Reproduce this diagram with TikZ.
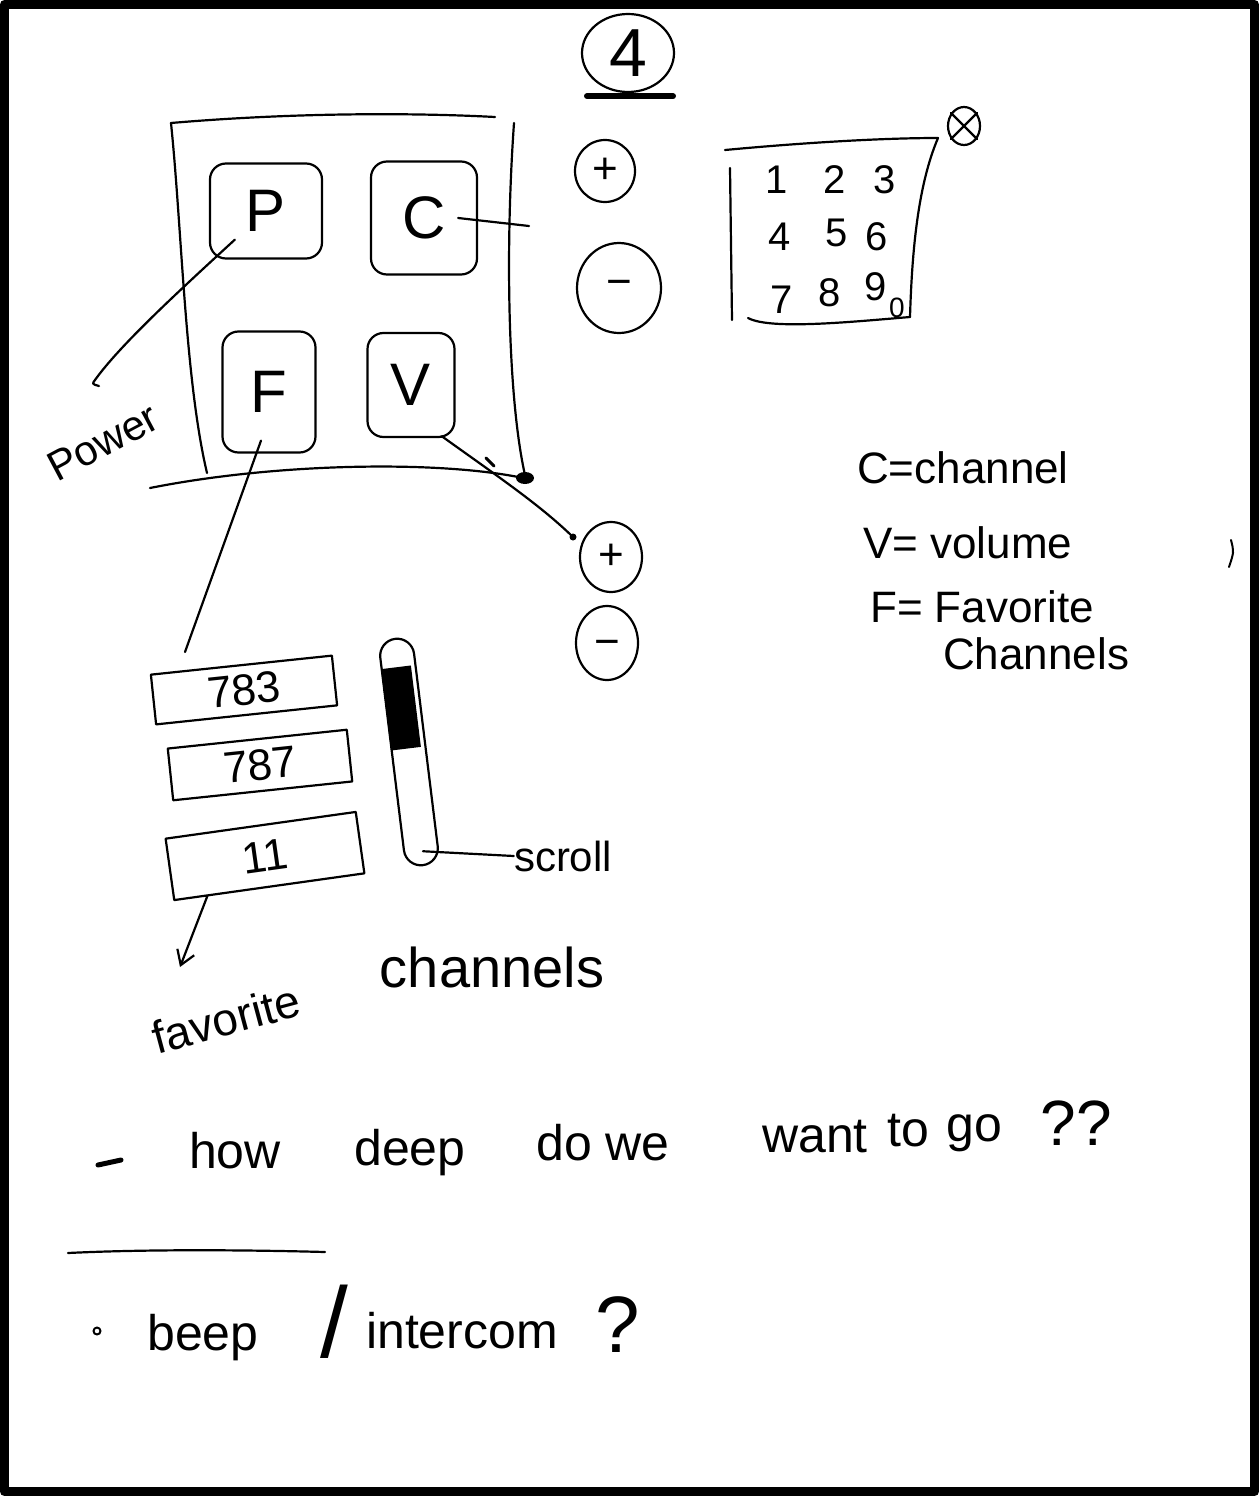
\documentclass[tikz,border=0pt]{standalone}
\usepackage{fontspec}
\setmainfont{Liberation Sans}
\usetikzlibrary{shapes.geometric,arrows.meta}
\newcommand\myfs[1]{\fontsize{#1}{#1}\selectfont}
\begin{document}
\begin{tikzpicture}[x=1pt,y=-1pt,line cap=round,line join=round,
  ink/.style={line width=2.2pt,draw=black},
  btn/.style={draw,line width=2.2pt,rounded corners=16pt,inner sep=0pt,font=\myfs{60}},
  circ/.style={ellipse,draw,line width=2.2pt,inner sep=0pt,font=\myfs{44}},
  keyd/.style={inner sep=0pt,font=\myfs{40}},
  leg/.style={inner sep=0pt,anchor=west,font=\myfs{44}},
  fav/.style={draw,line width=2.2pt,inner sep=0pt,font=\myfs{44}},
  lab/.style={inner sep=0pt,font=\myfs{44}},
  bt/.style={inner sep=0pt,anchor=base,font=\myfs{50}}]
\useasboundingbox (0,0) rectangle (1259,1496);
\fill[white] (0,0) rectangle (1259,1496);
\draw[line width=9pt] (4.5,4.5) rectangle (1254.5,1491.5);

% page number
\node[ellipse,draw,line width=2.2pt,inner sep=0pt,minimum width=92,minimum height=78,font=\myfs{68}] (four) at (628,53) {4};
\draw[line width=6pt] ([xshift=-41pt,yshift=-3pt]four.south) -- ([xshift=45pt,yshift=-3pt]four.south);

% remote frame
\draw[ink] (171,123) .. controls (300,112) and (420,113) .. (495,117);
\draw[ink] (171,123) .. controls (182,230) and (185,380) .. (207,473);
\draw[ink] (514,123) .. controls (505,250) and (508,400) .. (525,475);
\draw[ink] (150,488) .. controls (280,462) and (450,460) .. (532,480);
\fill (525,478) ellipse (9 and 6);
\draw[line width=3pt] (486,458) -- (494,466);

% buttons
\node[btn,minimum width=112,minimum height=95] (P) at (266,211) {P};
\node[btn,minimum width=106,minimum height=113] (C) at (424,218) {C};
\node[btn,minimum width=93,minimum height=121] (F) at (269,392) {F};
\node[btn,minimum width=87,minimum height=104] (V) at (411,385) {V};

% power label
\coordinate (pwr) at (95,380);
\draw[ink] ([xshift=26pt,yshift=20pt]P.south west) .. controls (180,290) and (120,345) .. (pwr) .. controls (92,384) .. (99,386);
\node[lab,rotate=28,font=\myfs{42}] (power) at (103,442) {Power};

% channel connector
\coordinate (cEnd) at (529,226);
\draw[ink] ([xshift=-20pt]C.east) -- (cEnd);

% +/- buttons
\node[circ,minimum width=60,minimum height=62] (plusA) at (605,171) {+};
\node[circ,minimum width=84,minimum height=90] (minusA) at (619,288) {−};
\node[circ,minimum width=62,minimum height=70] (plusB) at (611,557) {+};
\node[circ,minimum width=62,minimum height=74] (minusB) at (607,643) {\raisebox{-13pt}[0pt][0pt]{−}};

% volume connector
\coordinate (vEnd) at (573,537);
\draw[ink] ([xshift=-14pt,yshift=2pt]V.south east) .. controls (500,478) and (540,505) .. (vEnd);
\fill (vEnd) circle (3.5);

% keypad
\draw[ink] (725,150) .. controls (800,143) and (880,138) .. (938,138);
\draw[ink] (938,138) .. controls (918,185) and (912,250) .. (910,317);
\draw[ink] (730,168) -- (732,320);
\draw[ink] (748,318) .. controls (770,330) and (850,322) .. (910,317);
\node[keyd] (k1) at (777,180) {1};
\node[keyd] (k2) at (835,180) {2};
\node[keyd] (k3) at (885,180) {3};
\node[keyd] (k4) at (780,237) {4};
\node[keyd] (k5) at (837,233) {5};
\node[keyd] (k6) at (877,237) {6};
\node[keyd] (k7) at (782,300) {7};
\node[keyd] (k8) at (830,293) {8};
\node[keyd] (k9) at (876,287) {9};
\node[keyd,font=\myfs{28}] (k0) at (897,308) {0};
\node[ellipse,draw,line width=2.2pt,inner sep=0pt,minimum width=32,minimum height=38] (close) at (964,126) {};
\draw[ink] (close.45) -- (close.225);
\draw[ink] (close.135) -- (close.315);

% legend
\node[leg] (legC) at (857,468) {C=channel};
\node[leg] (legV) at (863,543) {V= volume};
\node[leg] (legF) at (870,607) {F= Favorite};
\node[leg] (legF2) at (943,654) {Channels};
\draw[line width=2pt] (1231,540) .. controls (1234,552) .. (1229,567);

% F connector and favourites list
\coordinate (fEnd) at (185,652);
\draw[ink] ([xshift=-8pt,yshift=13pt]F.south) -- (fEnd);
\node[fav,minimum width=182,minimum height=50,rotate=6] (f783) at (244,690) {783};
\node[fav,minimum width=180,minimum height=52,rotate=6] (f787) at (260,765) {787};
\node[fav,minimum width=192,minimum height=62,rotate=8] (f11) at (265,856) {11};
\coordinate (favTip) at (180,967);
\draw[ink,-{Straight Barb[length=14pt,width=18pt]}] ([xshift=-62pt,yshift=-8pt]f11.south) -- (favTip);
\node[lab,rotate=15,font=\myfs{46}] (favlbl) at (226,1019) {favorite};
\node[lab,font=\myfs{56}] (chan) at (492,967) {channels};

% scroll bar
\node[draw,line width=2.2pt,rounded corners=17pt,minimum width=34,minimum height=228,rotate=7,inner sep=0pt] (sbar) at (409,752) {};
\node[fill=black,minimum width=30,minimum height=82,rotate=7,inner sep=0pt] (thumb) at (401,708) {};
\node[lab,font=\myfs{42}] (scrl) at (563,856) {scroll};
\draw[ink] ([yshift=15pt]sbar.south) -- (scrl.west);

% notes
\draw[line width=5pt] (98,1165) -- (121,1160);
\node[bt] (w1) at (235,1168) {how};
\node[bt] (w2) at (410,1165) {deep};
\node[bt] (w3) at (603,1160) {do we};
\node[bt] (w4) at (815,1152) {want};
\node[bt] (w5) at (908,1146) {to};
\node[bt] (w6) at (974,1141) {go};
\node[bt,font=\myfs{64}] (w7) at (1076,1145) {??};
\draw[ink] (68,1253) .. controls (150,1249) and (250,1250) .. (325,1252);
\draw[line width=2pt] (97,1331) circle (3.5);
\node[bt] (b1) at (203,1350) {beep};
\node[inner sep=0pt,font=\myfs{100}] (slash) at (334,1322) {/};
\node[bt] (b2) at (462,1348) {intercom};
\node[bt,font=\myfs{80}] (b3) at (618,1352) {?};
\end{tikzpicture}
\end{document}
